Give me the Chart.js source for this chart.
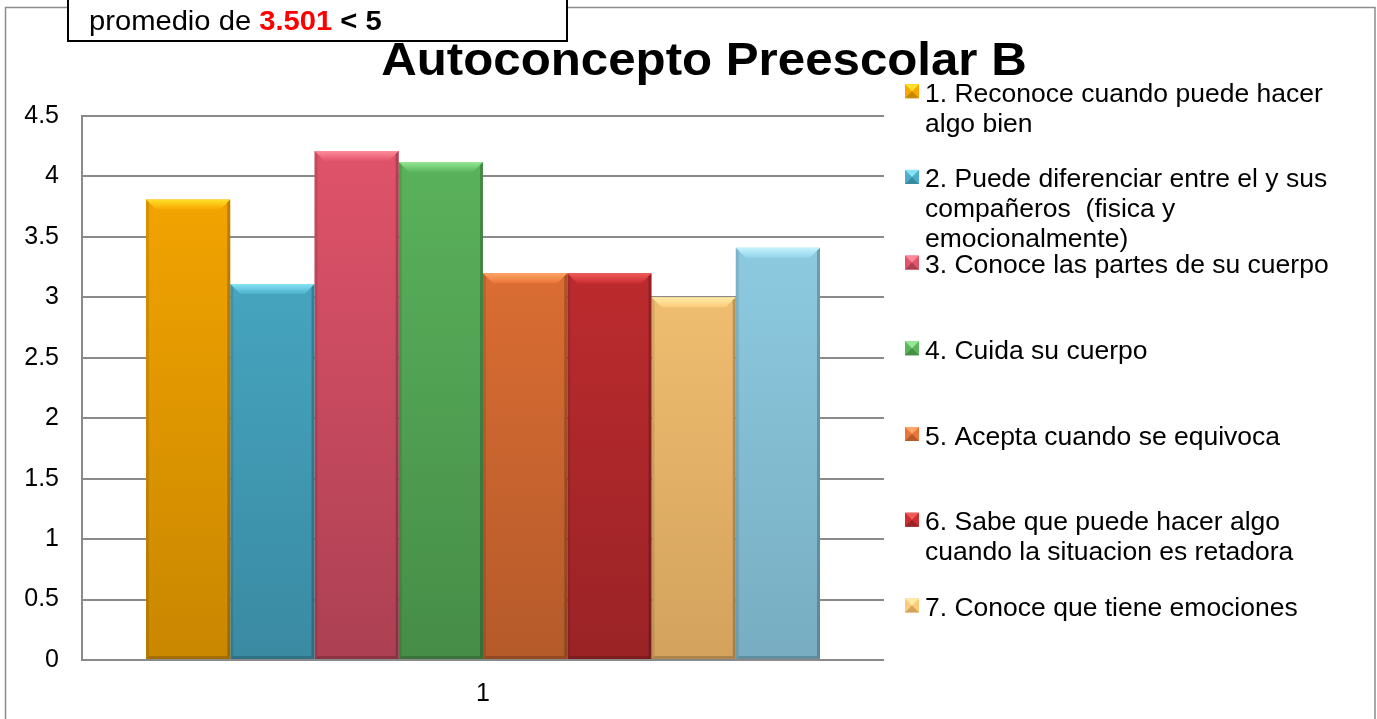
<!DOCTYPE html>
<html>
<head>
<meta charset="utf-8">
<script src="https://cdn.jsdelivr.net/npm/chart.js@4.4.1/dist/chart.umd.min.js"></script>
<style>
  html, body { margin: 0; padding: 0; background: #ffffff; }
  #wrap { position: relative; width: 1377px; height: 719px; }
  canvas { display: block; }
</style>
</head>
<body>
<div id="wrap"><canvas id="c" width="1377" height="719"></canvas></div>
<script>
// ---- data ----
const chartTitle = 'Autoconcepto Preescolar B';
const categories = ['1'];
const seriesLabels = [
  '1. Reconoce cuando puede hacer\nalgo bien',
  '2. Puede diferenciar entre el y sus\ncompañeros  (fisica y\nemocionalmente)',
  '3. Conoce las partes de su cuerpo',
  '4. Cuida su cuerpo',
  '5. Acepta cuando se equivoca',
  '6. Sabe que puede hacer algo\ncuando la situacion es retadora',
  '7. Conoce que tiene emociones',
  '8.'
];
const seriesValues = [3.81, 3.11, 4.21, 4.12, 3.2, 3.2, 3.0, 3.41];
const yTickValues = [0, 0.5, 1, 1.5, 2, 2.5, 3, 3.5, 4, 4.5];
const legendCount = 7;
const noteParts = [
  { text: 'promedio de ', bold: false, color: '#000000' },
  { text: '3.501', bold: true, color: '#ff0000' },
  { text: ' < 5', bold: true, color: '#000000' }
];

// ---- styles ----
const topColors    = ['#F8A800', '#4BB0CC', '#E3546B', '#5CB55D', '#E97537', '#CA2E31', '#FECB79', '#93D3EA'];
const bottomColors = ['#C98700', '#3A8AA2', '#AC4053', '#468D48', '#B55A2A', '#9A2326', '#D3A25D', '#78ADC1'];
const hiColors     = ['#FFE02A', '#86E3F7', '#FF8A9C', '#95E895', '#FFA565', '#F25A5A', '#FFEBA8', '#C6F3FF'];
const FONT = '"Liberation Sans", Arial, sans-serif';

function gradFor(i) {
  return function (ctx) {
    const chart = ctx.chart;
    const ca = chart.chartArea;
    if (!ca) return topColors[i];
    const g = chart.ctx.createLinearGradient(0, ca.top, 0, ca.bottom);
    g.addColorStop(0, topColors[i]);
    g.addColorStop(1, bottomColors[i]);
    return g;
  };
}

const datasets = seriesValues.map((v, i) => ({
  label: seriesLabels[i],
  data: [v],
  backgroundColor: gradFor(i),
  borderWidth: 0,
  categoryPercentage: 0.8404,
  barPercentage: 1.0
}));

function drawStretched(ctx, text, x, y, sx) {
  ctx.save();
  ctx.translate(x, y);
  ctx.scale(sx, 1);
  ctx.fillText(text, 0, 0);
  ctx.restore();
  return ctx.measureText(text).width * sx;
}

const decor = {
  id: 'decor',
  beforeDraw(chart) {
    const ctx = chart.ctx;
    ctx.save();
    ctx.fillStyle = '#ffffff';
    ctx.fillRect(0, 0, chart.width, chart.height);
    ctx.strokeStyle = '#8c8c8c';
    ctx.lineWidth = 1.5;
    ctx.strokeRect(5.5, 7.5, 1369.5, 740);
    ctx.restore();
  },
  afterDatasetsDraw(chart) {
    const ctx = chart.ctx;
    chart.data.datasets.forEach((ds, i) => {
      const el = chart.getDatasetMeta(i).data[0];
      if (!el) return;
      const l = el.x - el.width / 2, r = el.x + el.width / 2, t = el.y, b = el.base;
      const bev = 10;
      ctx.save();
      const g = ctx.createLinearGradient(0, t, 0, t + bev);
      g.addColorStop(0, hiColors[i]);
      g.addColorStop(1, topColors[i]);
      ctx.fillStyle = g;
      ctx.beginPath();
      ctx.moveTo(l, t); ctx.lineTo(r, t); ctx.lineTo(r - bev, t + bev); ctx.lineTo(l + bev, t + bev);
      ctx.closePath(); ctx.fill();
      ctx.fillStyle = 'rgba(0,0,0,0.10)';
      ctx.beginPath();
      ctx.moveTo(l, t); ctx.lineTo(l + 3, t + 3); ctx.lineTo(l + 3, b - 3); ctx.lineTo(l, b);
      ctx.closePath(); ctx.fill();
      ctx.fillStyle = 'rgba(0,0,0,0.22)';
      ctx.beginPath();
      ctx.moveTo(r, t); ctx.lineTo(r - 3, t + 3); ctx.lineTo(r - 3, b - 3); ctx.lineTo(r, b);
      ctx.closePath(); ctx.fill();
      ctx.fillStyle = 'rgba(0,0,0,0.18)';
      ctx.beginPath();
      ctx.moveTo(l, b); ctx.lineTo(r, b); ctx.lineTo(r - 3, b - 3); ctx.lineTo(l + 3, b - 3);
      ctx.closePath(); ctx.fill();
      ctx.restore();
    });
  },
  afterDraw(chart) {
    const ctx = chart.ctx;
    ctx.save();
    // title
    ctx.fillStyle = '#000000';
    ctx.font = 'bold 46px ' + FONT;
    ctx.textBaseline = 'alphabetic';
    const tsx = 1.07;
    const tw = ctx.measureText(chartTitle).width * tsx;
    drawStretched(ctx, chartTitle, 704 - tw / 2, 75, tsx);

    // legend
    const lsx = 1.06;
    const baseY = 101.7, step = 85.7, lineH = 30;
    for (let i = 0; i < legendCount; i++) {
      const by = baseY + step * i;
      const mx = 905, my = by - 17.5, ms = 14;
      ctx.fillStyle = topColors[i];
      ctx.fillRect(mx, my, ms, ms);
      ctx.fillStyle = hiColors[i];
      ctx.beginPath();
      ctx.moveTo(mx, my); ctx.lineTo(mx + ms, my); ctx.lineTo(mx + ms / 2, my + ms / 2); ctx.closePath(); ctx.fill();
      ctx.fillStyle = bottomColors[i];
      ctx.beginPath();
      ctx.moveTo(mx, my + ms); ctx.lineTo(mx + ms, my + ms); ctx.lineTo(mx + ms / 2, my + ms / 2); ctx.closePath(); ctx.fill();
      ctx.fillStyle = '#000000';
      ctx.font = '25px ' + FONT;
      const lines = chart.data.datasets[i].label.split('\n');
      lines.forEach((ln, k) => drawStretched(ctx, ln, 925, by + k * lineH, lsx));
    }

    // note box
    ctx.fillStyle = '#ffffff';
    ctx.fillRect(68, -2, 499, 43);
    ctx.strokeStyle = '#000000';
    ctx.lineWidth = 2;
    ctx.strokeRect(68, -2, 499, 43);
    let nx = 89;
    const nsx = 1.08;
    noteParts.forEach(p => {
      ctx.font = (p.bold ? 'bold ' : '') + '27px ' + FONT;
      ctx.fillStyle = p.color;
      nx += drawStretched(ctx, p.text, nx, 30, nsx);
    });
    ctx.restore();
  }
};

new Chart(document.getElementById('c'), {
  type: 'bar',
  data: { labels: categories, datasets },
  options: {
    responsive: false,
    animation: false,
    events: [],
    layout: { padding: { left: 0, right: 493, top: 116, bottom: 0 } },
    plugins: {
      legend: { display: false },
      title: { display: false },
      tooltip: { enabled: false }
    },
    scales: {
      x: {
        grid: { display: false, drawTicks: false },
        border: { display: false },
        ticks: { color: '#000000', font: { family: FONT, size: 25 }, padding: 19 },
        afterFit(scale) { scale.height = 59; }
      },
      y: {
        min: 0,
        max: 4.5,
        afterBuildTicks(scale) { scale.ticks = yTickValues.map(v => ({ value: v })); },
        grid: { color: '#8a8a8a', lineWidth: 2, drawTicks: false },
        border: { display: true, color: '#8a8a8a', width: 2 },
        ticks: {
          color: '#000000',
          font: { family: FONT, size: 25 },
          padding: 23,
          callback: v => String(v)
        },
        afterFit(scale) { scale.width = 82; }
      }
    }
  },
  plugins: [decor]
});
</script>
</body>
</html>
